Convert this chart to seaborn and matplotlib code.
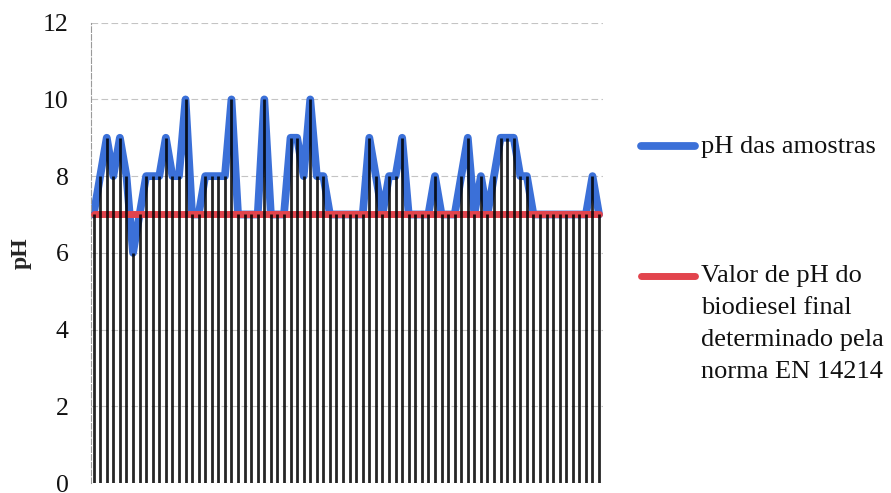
import numpy as np
import pandas as pd
import matplotlib
matplotlib.use("Agg")
import matplotlib.pyplot as plt
import seaborn as sns

# pH medido em cada amostra
amostras = list(range(1, 79))
ph_amostras = [
    7, 8, 9, 8, 9, 8, 6, 7, 8, 8,
    8, 9, 8, 8, 10, 7, 7, 8, 8, 8,
    8, 10, 7, 7, 7, 7, 10, 7, 7, 7,
    9, 9, 8, 10, 8, 8, 7, 7, 7, 7,
    7, 7, 9, 8, 7, 8, 8, 9, 7, 7,
    7, 7, 8, 7, 7, 7, 8, 9, 7, 8,
    7, 8, 9, 9, 9, 8, 8, 7, 7, 7,
    7, 7, 7, 7, 7, 7, 8, 7,
]
# valor de referência da norma EN 14214
ph_norma = 7

rotulo_amostras = "pH das amostras"
rotulo_norma = "Valor de pH do\nbiodiesel final\ndeterminado pela\nnorma EN 14214"
y_ticks = [0, 2, 4, 6, 8, 10, 12]

azul = "#3b70d8"
vermelho = "#e2444d"

sns.set_theme(style="white")
plt.rcParams["font.family"] = ["Liberation Serif", "DejaVu Serif"]

df = pd.DataFrame({"amostra": amostras, "pH": ph_amostras})
df["norma"] = ph_norma

fig = plt.figure(figsize=(8.91, 4.93), dpi=100)
ax = fig.add_axes([91 / 891, 10 / 493, 512 / 891, 460.3 / 493])

# linhas de queda de cada ponto até o eixo
ax.vlines(df["amostra"], 0, df["pH"], color="black", lw=2.0, alpha=0.85, zorder=4)

sns.lineplot(data=df, x="amostra", y="pH", color=azul, lw=5.6, ax=ax,
             label=rotulo_amostras, zorder=2,
             solid_capstyle="round", solid_joinstyle="round")
sns.lineplot(data=df, x="amostra", y="norma", color=vermelho, lw=5.0, ax=ax,
             label=rotulo_norma, zorder=3,
             solid_capstyle="round", solid_joinstyle="round")

ax.set_xlim(0.6, 78.6)
ax.set_ylim(0, 12)
ax.set_yticks(y_ticks)
ax.set_xticks([])
ax.set_xlabel("")
ax.set_ylabel("pH", fontsize=17, fontweight="bold", labelpad=8)

ax.yaxis.grid(True, color="#c4c4c4", lw=0.8, ls=(0, (6, 3)), zorder=0)
ax.xaxis.grid(False)
for side in ("top", "right", "bottom"):
    ax.spines[side].set_visible(False)
ax.spines["left"].set_color("#9a9a9a")
ax.spines["left"].set_linewidth(0.8)
ax.spines["left"].set_linestyle((0, (5, 2)))
ax.tick_params(axis="y", length=0, pad=16, labelsize=18.5, labelcolor="#111111")

handles, labels = ax.get_legend_handles_labels()
ax.get_legend().remove()
leg = fig.legend(handles, labels, loc="upper left",
                 bbox_to_anchor=(641 / 891, 1 - 136 / 493),
                 bbox_transform=fig.transFigure,
                 frameon=False, fontsize=19, handlelength=2.05,
                 handleheight=1.0, handletextpad=0.22, labelspacing=4.0,
                 borderpad=0, borderaxespad=0)
# marcador alinhado à primeira linha de cada rótulo
for col in leg._legend_handle_box.get_children():
    for row in col.get_children():
        row.align = "top"
for line in leg.get_lines():
    line.set_solid_capstyle("round")
for txt in leg.get_texts():
    txt.set_color("#111111")
    txt.set_linespacing(1.58)

fig.savefig("out.png", dpi=100)
